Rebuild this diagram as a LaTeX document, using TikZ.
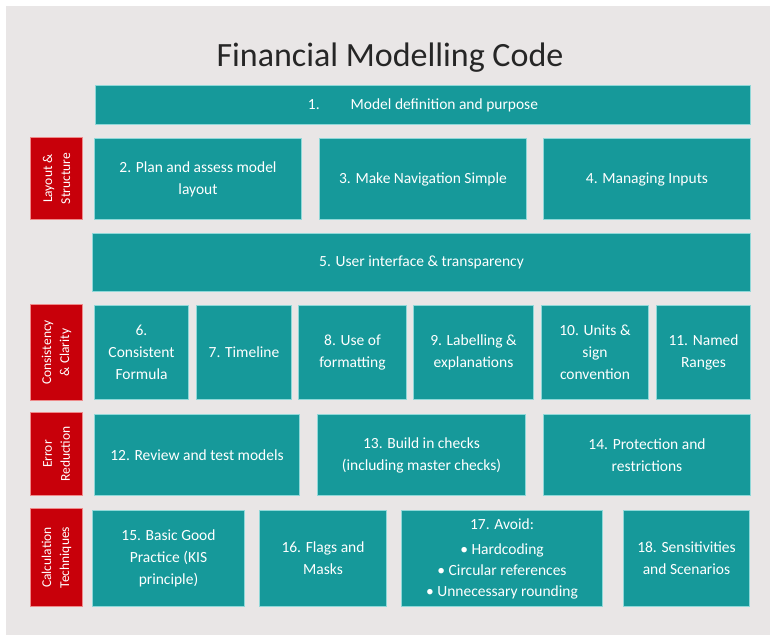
\documentclass[tikz,border=0pt]{standalone}
\usepackage{fontspec}
\setmainfont{Carlito}
\usepackage{tikz}

\definecolor{slidegrey}{HTML}{E9E6E6}
\definecolor{tealbox}{HTML}{16999A}
\definecolor{tealedge}{HTML}{8FD8D8}
\definecolor{redtab}{HTML}{C8000A}
\definecolor{rededge}{HTML}{EE8A8A}

\tikzset{
  tile/.style={draw=tealedge, line width=1pt, fill=tealbox, text=white,
    align=center, inner sep=2pt, font=\fontsize{15.5}{22}\selectfont},
  tab/.style={draw=rededge, line width=1pt, fill=redtab, text=white,
    align=center, inner sep=1pt, rotate=90, font=\fontsize{13.5}{18}\selectfont}
}

% box from its corners: name, x0, y0, x1, y1, text
\newcommand{\tilebox}[6]{%
  \node[tile, minimum width={#4-#2-1}, minimum height={#5-#3-1}]
    (#1) at ({(#2+#4)/2},{(#3+#5)/2}) {#6};}
% rotated section tab: name, x0, y0, x1, y1, text
\newcommand{\sectab}[6]{%
  \node[tab, minimum width={#5-#3-1}, minimum height={#4-#2-1}]
    (#1) at ({(#2+#4)/2},{(#3+#5)/2}) {#6};}

\begin{document}
\begin{tikzpicture}[x=1pt,y=-1pt]
  \path[use as bounding box] (0,0) rectangle (776,635);
  \fill[white] (0,0) rectangle (776,635);
  \fill[slidegrey] (6,6) rectangle (770,635);

  \node[font=\fontsize{34}{40}\selectfont, text=black!85] (title) at (390,58)
    {Financial Modelling Code};

  % top bar
  \tilebox{def}{95}{85}{751}{125}{1.\hspace{2em}Model definition and purpose}

  % layout & structure
  \sectab{layout}{30}{137}{83}{220}{Layout \&\\Structure}
  \tilebox{plan}{94}{138}{302}{220}{2. Plan and assess model\\layout}
  \tilebox{nav}{319}{138}{527}{220}{3. Make Navigation Simple}
  \tilebox{inputs}{543}{138}{751}{220}{4. Managing Inputs}
  \tilebox{ui}{92}{233}{751}{292}{5. User interface \& transparency}

  % consistency & clarity
  \sectab{clarity}{30}{304}{83}{401}{Consistency\\\& Clarity}
  \tilebox{formula}{94}{305}{189}{400}{6.\\Consistent\\Formula}
  \tilebox{timeline}{196}{305}{292}{400}{7. Timeline}
  \tilebox{format}{298}{305}{407}{400}{8. Use of\\formatting}
  \tilebox{labels}{413}{305}{534}{400}{9. Labelling \&\\explanations}
  \tilebox{units}{541}{305}{649}{400}{10. Units \&\\sign\\convention}
  \tilebox{ranges}{656}{305}{751}{400}{11. Named\\Ranges}

  % error reduction
  \sectab{errors}{30}{412}{83}{496}{Error\\Reduction}
  \tilebox{review}{94}{414}{300}{496}{12. Review and test models}
  \tilebox{checks}{317}{414}{526}{496}{13. Build in checks\\(including master checks)}
  \tilebox{protect}{543}{414}{751}{496}{14. Protection and\\restrictions}

  % calculation techniques
  \sectab{calc}{30}{508}{83}{607}{Calculation\\Techniques}
  \tilebox{kis}{92}{510}{245}{607}{15. Basic Good\\Practice (KIS\\principle)}
  \tilebox{flags}{259}{510}{387}{607}{16. Flags and\\Masks}
  \tilebox{avoid}{401}{510}{603}{607}{17. Avoid:\\[3pt]• Hardcoding\\[-1pt]• Circular references\\[-1pt]• Unnecessary rounding}
  \tilebox{sens}{623}{510}{750}{607}{18. Sensitivities\\and Scenarios}
\end{tikzpicture}
\end{document}
